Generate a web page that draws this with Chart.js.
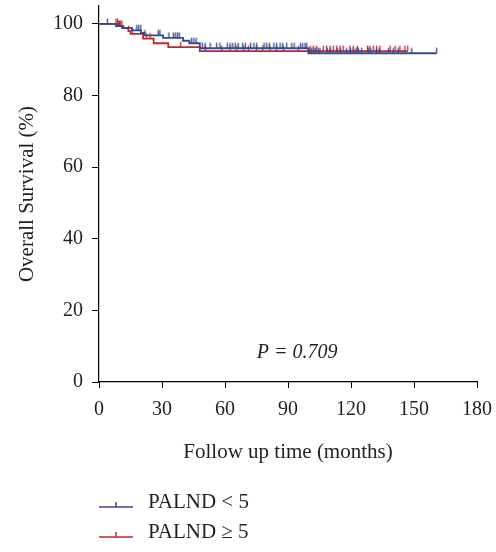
<!DOCTYPE html>
<html><head><meta charset="utf-8">
<script src="https://cdn.jsdelivr.net/npm/chart.js"></script>
<style>html,body{margin:0;padding:0;background:#fff}#wrap{width:496px;height:552px;position:relative}</style>
</head><body><div id="wrap"><canvas id="c"></canvas></div>
<script>
const seriesLabels = ['PALND < 5', 'PALND \u2265 5'];
const seriesColors = ['#34498e', '#c0272d'];
const blueStepTimes  = [0, 8.1, 11.6, 15.7, 20.0, 21.5, 30.5, 40.0, 43.0, 48.0, 99.7, 160.8];
const blueStepValues = [100, 99.4, 98.9, 98.2, 97.5, 96.8, 96.1, 95.3, 94.6, 93.2, 91.8, 91.8];
const redStepTimes   = [0, 9.0, 11.0, 14.0, 15.0, 21.0, 26.0, 33.0, 48.0, 147.0];
const redStepValues  = [100, 99.4, 98.8, 98.0, 97.2, 95.9, 94.6, 93.5, 92.4, 92.4];
const blueCensorTimes = [4.0, 9.7, 18.0, 18.9, 19.9, 21.9, 28.2, 29.0, 33.3, 35.4, 36.3, 37.3, 38.2, 44.1, 45.2, 46.2, 49.2, 50.5, 52.9, 56.0, 57.6, 61.1, 62.4, 63.7, 64.9, 66.3, 68.4, 69.7, 72.2, 73.8, 75.1, 78.6, 79.9, 81.1, 83.3, 84.6, 86.2, 87.5, 89.4, 91.8, 92.9, 96.0, 97.0, 98.1, 98.9, 100.1, 101.3, 102.4, 103.3, 104.4, 105.2, 108.7, 110.0, 113.5, 114.8, 117.9, 119.8, 121.1, 122.4, 123.5, 125.1, 128.2, 129.4, 132.2, 133.5, 137.8, 140.1, 142.5, 148.9, 160.8];
const redCensorTimes = [8.1, 8.7, 9.4, 10.3, 10.9, 14.0, 16.0, 22.7, 24.3, 38.9, 50.5, 58.4, 62.4, 65.6, 68.7, 71.1, 75.1, 77.9, 81.4, 84.6, 87.8, 94.9, 100.5, 102.0, 103.7, 106.8, 108.4, 110.0, 111.6, 113.2, 114.8, 116.3, 119.5, 121.1, 123.0, 127.8, 129.0, 130.6, 132.2, 133.8, 138.6, 141.0, 143.3, 145.7, 147.0];
const xTicks = [0, 30, 60, 90, 120, 150, 180];
const yTicks = [0, 20, 40, 60, 80, 100];
const xTitle = 'Follow up time (months)';
const yTitle = 'Overall Survival (%)';
const pValueText = 'P = 0.709';
const pValuePos = {x: 94.3, y: 6.8};

const FONT = "'Liberation Serif','DejaVu Serif',serif";
const TEXT = '#231f20';

function stepPoints(times, values) { return times.map((t, i) => ({x: t, y: values[i]})); }
function survAt(times, values, t) {
  let v = values[0];
  for (let i = 0; i < times.length; i++) { if (times[i] <= t) v = values[i]; }
  return v;
}
function censorPoints(ct, times, values) { return ct.map(t => ({x: t, y: survAt(times, values, t)})); }
function tickImage(color) {
  const c = document.createElement('canvas');
  c.width = 3; c.height = 14;
  const g = c.getContext('2d');
  g.strokeStyle = color; g.lineWidth = 1.3;
  g.beginPath(); g.moveTo(1.5, 1.5); g.lineTo(1.5, 7); g.stroke();
  return c;
}

const extras = {
  id: 'extras',
  afterDraw(chart) {
    const ctx = chart.ctx, xs = chart.scales.x, ys = chart.scales.y;
    ctx.save();
    ctx.fillStyle = TEXT;
    ctx.font = "italic 20px " + FONT;
    ctx.textAlign = 'center'; ctx.textBaseline = 'alphabetic';
    ctx.fillText(pValueText, xs.getPixelForValue(pValuePos.x), ys.getPixelForValue(pValuePos.y));
    // legend
    const left = chart.chartArea.left;
    const rows = [507, 537];
    ctx.font = "21px " + FONT;
    ctx.textAlign = 'left';
    seriesLabels.forEach((lab, i) => {
      const y = rows[i];
      ctx.strokeStyle = seriesColors[i]; ctx.lineWidth = 1.5;
      ctx.beginPath(); ctx.moveTo(left, y); ctx.lineTo(left + 34, y);
      ctx.moveTo(left + 17, y); ctx.lineTo(left + 17, y - 5); ctx.stroke();
      ctx.fillStyle = TEXT;
      ctx.fillText(lab, left + 49, y + 1);
    });
    ctx.restore();
  }
};

new Chart(document.getElementById('c'), {
  type: 'line',
  data: {
    datasets: [
      {label: seriesLabels[0], data: stepPoints(blueStepTimes, blueStepValues), stepped: true, borderColor: seriesColors[0], borderWidth: 1.8, pointRadius: 0, fill: false},
      {label: seriesLabels[0] + ' censored', data: censorPoints(blueCensorTimes, blueStepTimes, blueStepValues), showLine: false, pointStyle: tickImage(seriesColors[0]), pointRadius: 5},
      {label: seriesLabels[1], data: stepPoints(redStepTimes, redStepValues), stepped: true, borderColor: seriesColors[1], borderWidth: 1.8, pointRadius: 0, fill: false},
      {label: seriesLabels[1] + ' censored', data: censorPoints(redCensorTimes, redStepTimes, redStepValues), showLine: false, pointStyle: tickImage(seriesColors[1]), pointRadius: 5}
    ]
  },
  options: {
    responsive: true, maintainAspectRatio: false, animation: false,
    layout: {padding: {top: 5, right: 19, bottom: 87, left: 0}},
    plugins: {legend: {display: false}, tooltip: {enabled: false}},
    scales: {
      x: {
        type: 'linear', min: 0, max: 180,
        afterBuildTicks: s => { s.ticks = xTicks.map(v => ({value: v})); },
        afterFit: s => { s.height = 83; s.paddingLeft = 0; s.paddingRight = 0; },
        grid: {drawOnChartArea: false, drawTicks: true, tickLength: 6, color: '#000', lineWidth: 1},
        border: {display: true, color: '#000', width: 1.2},
        ticks: {color: TEXT, font: {family: FONT, size: 20}, padding: 10, maxRotation: 0},
        title: {display: true, text: xTitle, color: TEXT, font: {family: FONT, size: 21}, padding: {top: 0, bottom: 0}}
      },
      y: {
        type: 'linear', min: 0, max: 105,
        afterBuildTicks: s => { s.ticks = yTicks.map(v => ({value: v})); },
        afterFit: s => { s.width = 99; s.paddingTop = 0; s.paddingBottom = 0; },
        grid: {drawOnChartArea: false, drawTicks: true, tickLength: 7, color: '#000', lineWidth: 1},
        border: {display: true, color: '#000', width: 1.2},
        ticks: {color: TEXT, font: {family: FONT, size: 20}, padding: 9},
        title: {display: true, text: yTitle, color: TEXT, font: {family: FONT, size: 21}, padding: {top: 15, bottom: 0}}
      }
    }
  },
  plugins: [extras]
});
</script></body></html>
